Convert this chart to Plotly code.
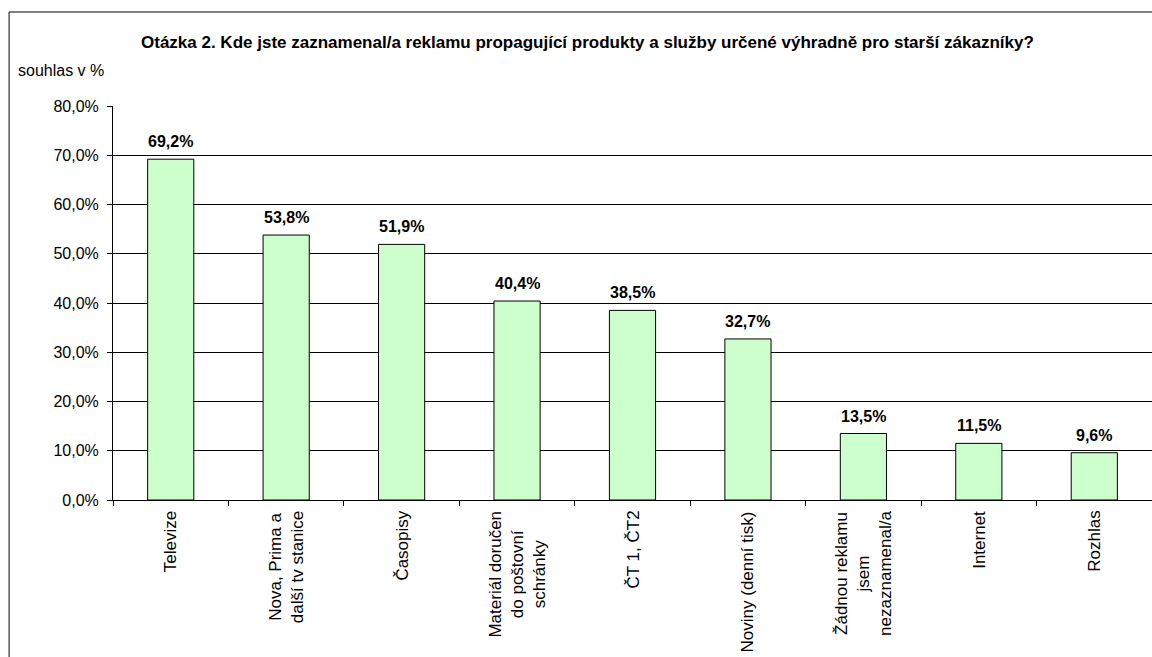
import plotly.graph_objects as go

categories = [
    "Televize",
    "Nova, Prima a<br>další tv stanice",
    "Časopisy",
    "Materiál doručen<br>do poštovní<br>schránky",
    "ČT 1, ČT2",
    "Noviny (denní tisk)",
    "Žádnou reklamu<br>jsem<br>nezaznamenal/a",
    "Internet",
    "Rozhlas",
]
values = [69.2, 53.8, 51.9, 40.4, 38.5, 32.7, 13.5, 11.5, 9.6]
y_ticks = [0, 10, 20, 30, 40, 50, 60, 70, 80]
y_tick_labels = ["0,0%", "10,0%", "20,0%", "30,0%", "40,0%", "50,0%", "60,0%", "70,0%", "80,0%"]
value_labels = ["69,2%", "53,8%", "51,9%", "40,4%", "38,5%", "32,7%", "13,5%", "11,5%", "9,6%"]

title_text = "Otázka 2. Kde jste zaznamenal/a reklamu propagující produkty a služby určené výhradně pro starší zákazníky?"
y_title = "souhlas v %"

FONT = "Liberation Sans, Arial, sans-serif"

fig = go.Figure()
fig.add_trace(go.Bar(
    x=categories,
    y=values,
    marker=dict(color="#CCFFCC", line=dict(color="#000000", width=1)),
    hoverinfo="skip",
))

annotations = [
    dict(text="<b>" + title_text + "</b>", xref="paper", yref="paper",
         x=0.4567, y=1.162, xanchor="center", yanchor="middle",
         showarrow=False, font=dict(family=FONT, size=17, color="#000000")),
    dict(text=y_title, xref="paper", yref="paper",
         x=-0.0933, y=1.091, xanchor="left", yanchor="middle",
         showarrow=False, font=dict(family=FONT, size=16, color="#000000")),
]
for cat, val, lab in zip(categories, values, value_labels):
    annotations.append(dict(
        text="<b>" + lab + "</b>", x=cat, y=val, xref="x", yref="y",
        xanchor="center", yanchor="bottom", yshift=7, showarrow=False,
        font=dict(family=FONT, size=16, color="#000000"),
    ))
# category labels, rotated, lines centred
for cat in categories:
    annotations.append(dict(
        text=cat, x=cat, y=0, xref="x", yref="paper",
        xanchor="center", yanchor="top", yshift=-9, textangle=-90,
        align="center", showarrow=False,
        font=dict(family=FONT, size=17, color="#000000"),
    ))

fig.update_layout(
    width=1152,
    height=657,
    paper_bgcolor="white",
    plot_bgcolor="white",
    margin=dict(l=113, r=0, t=106, b=157),
    bargap=0.6,
    showlegend=False,
    font=dict(family=FONT, size=16, color="#000000"),
    xaxis=dict(
        type="category",
        showticklabels=False,
        showline=True,
        linecolor="#000000",
        linewidth=1,
        ticks="outside",
        ticklen=5,
        tickcolor="#000000",
        tickson="boundaries",
        showgrid=False,
    ),
    yaxis=dict(
        range=[0, 80],
        tickvals=y_ticks,
        ticktext=y_tick_labels,
        showline=True,
        linecolor="#000000",
        linewidth=1,
        ticks="outside",
        ticklen=5,
        tickcolor="#000000",
        ticklabelstandoff=5,
        showgrid=True,
        gridcolor="#000000",
        gridwidth=1,
        zeroline=False,
        tickfont=dict(family=FONT, size=16, color="#000000"),
    ),
    shapes=[
        dict(type="line", xref="paper", yref="paper",
             x0=-0.1, x1=-0.1, y0=-0.5, y1=1.2386,
             line=dict(color="#000000", width=1), layer="below"),
        dict(type="line", xref="paper", yref="paper",
             x0=-0.1, x1=1.2, y0=1.2386, y1=1.2386,
             line=dict(color="#000000", width=1), layer="below"),
    ],
    annotations=annotations,
)

fig.write_html(
    "out.html",
    config={"displayModeBar": False},
    post_script="document.body.style.margin='0';document.body.style.overflow='hidden';",
)
